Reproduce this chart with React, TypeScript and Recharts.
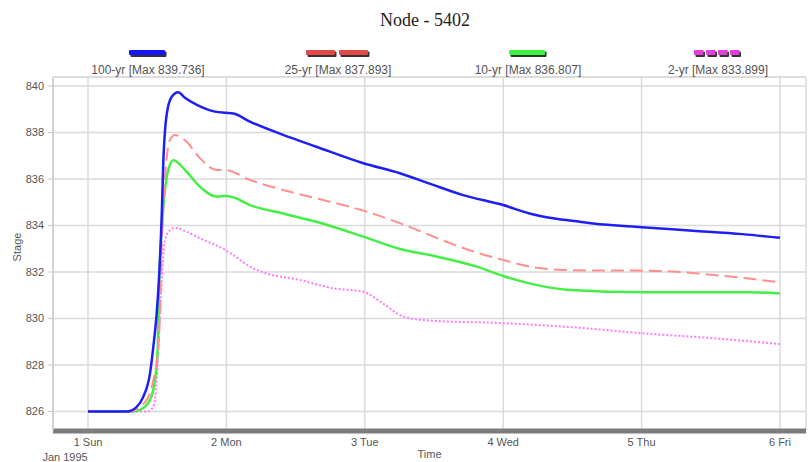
import React from 'react';
import { LineChart, Line, XAxis, YAxis, CartesianGrid, Legend, ReferenceLine } from 'recharts';

// ---- axis ticks / labels ----
const dayTicks = [0, 1, 2, 3, 4, 5];
const dayLabels = ['1 Sun', '2 Mon', '3 Tue', '4 Wed', '5 Thu', '6 Fri'];
const monthLabel = 'Jan 1995';
const stageTicks = [826, 828, 830, 832, 834, 836, 838, 840];
const stageMinorTicks = [
  825.5, 826, 826.5, 827, 827.5, 828, 828.5, 829, 829.5, 830, 830.5, 831, 831.5, 832, 832.5,
  833, 833.5, 834, 834.5, 835, 835.5, 836, 836.5, 837, 837.5, 838, 838.5, 839, 839.5, 840,
];
const xDomain = [-0.253, 5.188];
const yDomain = [825.16, 840.39];
const title = 'Node - 5402';
const seriesNames = [
  '100-yr [Max 839.736]',
  '25-yr [Max 837.893]',
  '10-yr [Max 836.807]',
  '2-yr [Max 833.899]',
];

// ---- series: time (days after 1 Sun 00:00) and stage ----
const t100 = [0, 0.28, 0.352, 0.4, 0.448, 0.472, 0.496, 0.515, 0.533, 0.544, 0.569, 0.605, 0.652, 0.7, 0.79, 0.918, 0.992, 1.05, 1.17, 1.41, 1.65, 1.99, 2.254, 2.47, 2.71, 3.0, 3.19, 3.36, 3.555, 3.65, 4.0, 4.37, 4.73, 5.0];
const s100 = [826, 826, 826.2, 826.64, 827.64, 828.79, 830.2, 831.95, 834.5, 836.7, 838.8, 839.54, 839.736, 839.5, 839.18, 838.9, 838.85, 838.82, 838.47, 837.9, 837.39, 836.68, 836.25, 835.8, 835.31, 834.88, 834.52, 834.31, 834.16, 834.09, 833.93, 833.78, 833.63, 833.47];

const t25 = [0, 0.303, 0.424, 0.472, 0.508, 0.52, 0.533, 0.556, 0.592, 0.629, 0.713, 0.809, 0.93, 0.99, 1.17, 1.41, 1.65, 1.99, 2.35, 2.59, 2.83, 3.0, 3.19, 3.43, 3.8, 3.99, 4.28, 4.52, 4.76, 5.0];
const s25 = [826, 826, 826.5, 827.35, 828.79, 830.2, 833.09, 835.96, 837.68, 837.893, 837.6, 836.9, 836.39, 836.39, 835.96, 835.53, 835.17, 834.64, 833.88, 833.3, 832.8, 832.52, 832.23, 832.09, 832.06, 832.06, 832.0, 831.87, 831.73, 831.55];

const t10 = [0, 0.32, 0.376, 0.448, 0.484, 0.504, 0.515, 0.533, 0.551, 0.58, 0.616, 0.713, 0.809, 0.93, 0.992, 1.05, 1.17, 1.41, 1.65, 1.99, 2.254, 2.47, 2.81, 3.0, 3.19, 3.46, 4.04, 4.76, 5.0];
const s10 = [826, 826, 826.07, 826.5, 827.35, 828.79, 831.66, 833.8, 835.24, 836.39, 836.807, 836.31, 835.67, 835.24, 835.27, 835.21, 834.88, 834.52, 834.16, 833.52, 832.99, 832.73, 832.23, 831.83, 831.51, 831.24, 831.13, 831.13, 831.08];

const t2 = [0, 0.43, 0.472, 0.496, 0.515, 0.533, 0.556, 0.592, 0.629, 0.713, 0.809, 0.992, 1.05, 1.17, 1.29, 1.53, 1.77, 1.99, 2.13, 2.28, 2.47, 3.0, 3.555, 3.99, 4.52, 5.0];
const s2 = [826, 826, 826.2, 827.35, 829.5, 831.66, 833.38, 833.8, 833.899, 833.73, 833.45, 832.95, 832.73, 832.23, 831.94, 831.66, 831.3, 831.15, 830.65, 830.08, 829.91, 829.8, 829.6, 829.37, 829.15, 828.9];

const zip = (t: number[], s: number[]) => t.map((x, i) => ({ t: x, v: s[i] }));

const data100 = zip(t100, s100);
const data25 = zip(t25, s25);
const data10 = zip(t10, s10);
const data2 = zip(t2, s2);

const FONT = '"Liberation Sans", Arial, sans-serif';
const TEXT = '#555';

const colors = {
  c100: '#1e1ef5',
  c25: '#ff8f8f',
  c10: '#44ee44',
  c2: '#ff78ff',
};

const DayTick = (props: any) => {
  const { x, y, payload } = props;
  return (
    <g>
      <text x={x} y={y} dy="0.71em" textAnchor="middle" fill={TEXT} fontSize={11} fontFamily={FONT}>
        {dayLabels[payload.value]}
      </text>
      {payload.value === 0 && (
        <text x={x - 23} y={y + 15} dy="0.71em" textAnchor="middle" fill={TEXT} fontSize={11} fontFamily={FONT}>
          {monthLabel}
        </text>
      )}
    </g>
  );
};

const StageLabel = () => (
  <text
    x={17}
    y={247}
    transform="rotate(-90 17 247)"
    textAnchor="middle"
    dominantBaseline="central"
    fill={TEXT}
    fontSize={11}
    fontFamily={FONT}
  >
    Stage
  </text>
);

const Swatch = ({ i }: { i: number }) => {
  if (i === 0 || i === 2) {
    const c = i === 0 ? '#1515ff' : '#3ff23f';
    return (
      <svg width={38} height={8}>
        <rect x={1.5} y={1.5} width={36} height={5.5} rx={1} fill="#333" />
        <rect x={0} y={0} width={36} height={5} rx={1} fill={c} />
      </svg>
    );
  }
  if (i === 1) {
    return (
      <svg width={64} height={8}>
        {[0, 33].map((x) => (
          <g key={x}>
            <rect x={x + 1.5} y={1.5} width={29} height={5.5} rx={1} fill="#333" />
            <rect x={x} y={0} width={29} height={5} rx={1} fill="#e24a4a" />
          </g>
        ))}
      </svg>
    );
  }
  return (
    <svg width={48} height={8}>
      {[0, 12, 24, 36].map((x) => (
        <g key={x}>
          <rect x={x + 1.5} y={1.5} width={9.5} height={5.5} rx={1} fill="#333" />
          <rect x={x} y={0} width={9.5} height={5} rx={1} fill="#e040d8" />
        </g>
      ))}
    </svg>
  );
};

const LegendContent = () => (
  <div style={{ display: 'flex', width: 760 }}>
    {seriesNames.map((n, i) => (
      <div
        key={n}
        style={{ width: 190, display: 'flex', flexDirection: 'column', alignItems: 'center' }}
      >
        <Swatch i={i} />
        <span
          style={{
            fontSize: 12,
            lineHeight: '12px',
            marginTop: 6,
            color: TEXT,
            fontFamily: FONT,
            whiteSpace: 'nowrap',
          }}
        >
          {n}
        </span>
      </div>
    ))}
  </div>
);

export default function App() {
  return (
    <div style={{ position: 'absolute', left: 0, top: 0, width: 808, height: 462, background: '#fff' }}>
      <div
        style={{
          position: 'absolute',
          left: 325,
          top: 10,
          width: 200,
          textAlign: 'center',
          fontFamily: '"Liberation Serif", "Times New Roman", serif',
          fontSize: 18,
          lineHeight: '20px',
          color: '#222',
          zIndex: 2,
        }}
      >
        {title}
      </div>
      <LineChart width={808} height={462} margin={{ top: 77, right: 2, bottom: 0, left: 0 }}>
        <CartesianGrid stroke="#dadada" strokeWidth={1.5} yAxisId={0} />
        <ReferenceLine y={yDomain[1]} stroke="#dadada" strokeWidth={1.5} />
        <XAxis
          dataKey="t"
          type="number"
          domain={xDomain}
          allowDataOverflow
          ticks={dayTicks}
          interval={0}
          height={31}
          tickLine={false}
          tickSize={0}
          tickMargin={7}
          axisLine={{ stroke: '#7c7c7c', strokeWidth: 5 }}
          tick={<DayTick />}
          label={{ value: 'Time', position: 'bottom', offset: -12, fill: TEXT, fontSize: 11, fontFamily: FONT }}
        />
        <YAxis
          yAxisId="minor"
          type="number"
          domain={yDomain}
          allowDataOverflow
          ticks={stageMinorTicks}
          interval={0}
          width={0}
          mirror
          tick={false}
          tickSize={4}
          axisLine={false}
          tickLine={{ stroke: '#c8c8c8' }}
        />
        <YAxis
          yAxisId={0}
          type="number"
          domain={yDomain}
          allowDataOverflow
          ticks={stageTicks}
          interval={0}
          width={53}
          tickSize={5}
          tickMargin={4}
          axisLine={{ stroke: '#cfcfcf', strokeWidth: 1.5 }}
          tickLine={{ stroke: '#c8c8c8' }}
          tick={{ fill: TEXT, fontSize: 11, fontFamily: FONT }}
          label={<StageLabel />}
        />
        <Legend
          verticalAlign="middle"
          align="center"
          layout="horizontal"
          content={<LegendContent />}
          wrapperStyle={{ top: 50, left: 53, width: 760, height: 30 }}
        />
        <Line
          data={data2}
          dataKey="v"
          name={seriesNames[3]}
          type="monotone"
          stroke={colors.c2}
          strokeWidth={2}
          strokeDasharray="2 2"
          dot={false}
          activeDot={false}
          isAnimationActive={false}
        />
        <Line
          data={data10}
          dataKey="v"
          name={seriesNames[2]}
          type="monotone"
          stroke={colors.c10}
          strokeWidth={2.5}
          dot={false}
          activeDot={false}
          isAnimationActive={false}
        />
        <Line
          data={data25}
          dataKey="v"
          name={seriesNames[1]}
          type="monotone"
          stroke={colors.c25}
          strokeWidth={2}
          strokeDasharray="13 6"
          dot={false}
          activeDot={false}
          isAnimationActive={false}
        />
        <Line
          data={data100}
          dataKey="v"
          name={seriesNames[0]}
          type="monotone"
          stroke={colors.c100}
          strokeWidth={2.5}
          dot={false}
          activeDot={false}
          isAnimationActive={false}
        />
      </LineChart>
    </div>
  );
}
